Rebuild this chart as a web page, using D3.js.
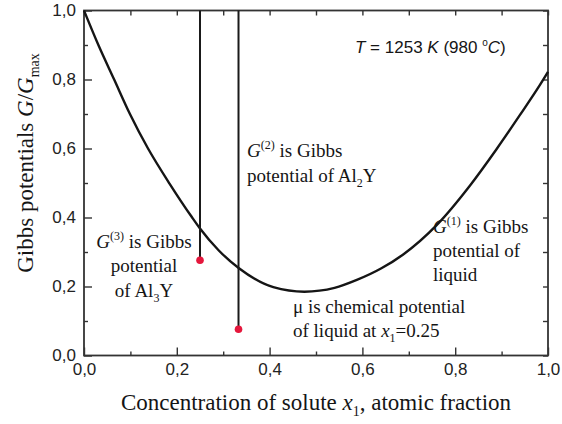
<!DOCTYPE html>
<html>
<head>
<meta charset="utf-8">
<script src="https://cdn.jsdelivr.net/npm/d3@7"></script>
<style>
  body { margin: 0; background: #fff; }
</style>
</head>
<body>
<div id="chart"></div>
<script>
// Gibbs potential of the liquid, G/Gmax vs x1
const concX = [0, 0.031, 0.065, 0.099, 0.138, 0.185, 0.232, 0.25, 0.29, 0.334, 0.408, 0.475, 0.54, 0.588, 0.64, 0.688, 0.76, 0.832, 0.889, 0.94, 0.983, 1.0];
const gibbsY = [1.0, 0.9, 0.8, 0.7, 0.6, 0.497, 0.402, 0.368, 0.305, 0.253, 0.198, 0.185, 0.196, 0.219, 0.252, 0.293, 0.378, 0.493, 0.598, 0.698, 0.785, 0.822];

// compounds Al3Y and Al2Y: position and Gibbs potential (red dots)
const compX = [0.25, 0.333];
const compY = [0.276, 0.076];

const majorTicks = [0, 0.2, 0.4, 0.6, 0.8, 1.0];
const minorTicks = [0.1, 0.3, 0.5, 0.7, 0.9];

const width = 562, height = 424;
const margin = { left: 84, right: 14, top: 10.5, bottom: 68.5 };

const svg = d3.select("#chart").append("svg")
    .attr("width", width)
    .attr("height", height);

const x = d3.scaleLinear().domain([0, 1]).range([margin.left, width - margin.right]);
const y = d3.scaleLinear().domain([0, 1]).range([height - margin.bottom, margin.top]);

const fmt = d => d3.format(".1f")(d).replace(".", ",");
const sans = "'Liberation Sans', Arial, sans-serif";
const serif = "'Liberation Serif', 'Times New Roman', serif";

// axes, ticks pointing inward
function styleAxis(g) {
    g.select(".domain").remove();
    g.selectAll("line").attr("stroke", "#333").attr("stroke-width", 1.4);
    g.selectAll("text").attr("font-family", sans).attr("font-size", 17).attr("fill", "#222");
}

svg.append("g").attr("transform", `translate(0,${y(0)})`)
    .call(d3.axisBottom(x).tickValues(majorTicks).tickSize(-8).tickPadding(7).tickFormat(fmt))
    .call(styleAxis);
svg.append("g").attr("transform", `translate(0,${y(0)})`)
    .call(d3.axisBottom(x).tickValues(minorTicks).tickSize(-4).tickFormat(""))
    .call(styleAxis);
svg.append("g").attr("transform", `translate(${x(0)},0)`)
    .call(d3.axisLeft(y).tickValues(majorTicks).tickSize(-8).tickPadding(8).tickFormat(fmt))
    .call(styleAxis);
svg.append("g").attr("transform", `translate(${x(0)},0)`)
    .call(d3.axisLeft(y).tickValues(minorTicks).tickSize(-4).tickFormat(""))
    .call(styleAxis);
// top and right: ticks only
svg.append("g").attr("transform", `translate(0,${y(1)})`)
    .call(d3.axisTop(x).tickValues(majorTicks.concat(minorTicks)).tickSize(-5).tickFormat(""))
    .call(styleAxis);
svg.append("g").attr("transform", `translate(${x(1)},0)`)
    .call(d3.axisRight(y).tickValues(majorTicks.concat(minorTicks)).tickSize(-5).tickFormat(""))
    .call(styleAxis);

// frame
svg.append("rect")
    .attr("x", x(0)).attr("y", y(1))
    .attr("width", x(1) - x(0)).attr("height", y(0) - y(1))
    .attr("fill", "none").attr("stroke", "#333").attr("stroke-width", 1.8);

// liquid curve
const pts = concX.map((c, i) => [c, gibbsY[i]]);
svg.append("path")
    .datum(pts)
    .attr("fill", "none")
    .attr("stroke", "#151515")
    .attr("stroke-width", 2.4)
    .attr("d", d3.line().x(d => x(d[0])).y(d => y(d[1])).curve(d3.curveMonotoneX));

// compound lines with dots
svg.selectAll("line.comp")
    .data(compX)
    .enter()
    .append("line")
    .attr("class", "comp")
    .attr("x1", d => x(d)).attr("x2", d => x(d))
    .attr("y1", y(1))
    .attr("y2", (d, i) => y(compY[i]))
    .attr("stroke", "#1a1a1a")
    .attr("stroke-width", 2);

svg.selectAll("circle")
    .data(compX)
    .enter()
    .append("circle")
    .attr("cx", d => x(d))
    .attr("cy", (d, i) => y(compY[i]))
    .attr("r", 3.8)
    .attr("fill", "#e5173c");

// rich text helper: segments {t, it, sup, sub}
function rich(parent, px, py, segs, opts) {
    const t = parent.append("text")
        .attr("x", px).attr("y", py)
        .attr("font-family", opts.font)
        .attr("font-size", opts.size)
        .attr("fill", "#151515")
        .attr("text-anchor", opts.anchor || "start");
    let shift = 0;
    segs.forEach(s => {
        let target = s.sup ? -opts.sup : s.sub ? opts.sub : 0;
        const ts = t.append("tspan").text(s.t).attr("dy", target - shift);
        shift = target;
        if (s.it) ts.attr("font-style", "italic");
        if (s.sup || s.sub) ts.attr("font-size", opts.small);
    });
    return t;
}

const ann = svg.append("g");
const serifOpts = { font: serif, size: 19, small: 12, sup: 8, sub: 5 };

rich(ann, 355, 53, [
    { t: "T", it: true }, { t: " = 1253 " }, { t: "K", it: true }, { t: " (980 " },
    { t: "o", sup: true }, { t: "C", it: true }, { t: ")" }
], { font: sans, size: 17, small: 10, sup: 7, sub: 4 });

rich(ann, 247, 157, [{ t: "G", it: true }, { t: "(2)", sup: true }, { t: " is Gibbs" }], serifOpts);
rich(ann, 247, 182, [{ t: "potential of Al" }, { t: "2", sub: true }, { t: "Y" }], serifOpts);

const c3 = Object.assign({}, serifOpts, { anchor: "middle" });
rich(ann, 144, 248, [{ t: "G", it: true }, { t: "(3)", sup: true }, { t: " is Gibbs" }], c3);
rich(ann, 144, 272, [{ t: "potential" }], c3);
rich(ann, 144, 297, [{ t: "of Al" }, { t: "3", sub: true }, { t: "Y" }], c3);

rich(ann, 433, 233, [{ t: "G", it: true }, { t: "(1)", sup: true }, { t: " is Gibbs" }], serifOpts);
rich(ann, 433, 257, [{ t: "potential of" }], serifOpts);
rich(ann, 433, 281, [{ t: "liquid" }], serifOpts);

rich(ann, 293, 313, [{ t: "μ is chemical potential" }], serifOpts);
rich(ann, 293, 337, [{ t: "of liquid at " }, { t: "x", it: true }, { t: "1", sub: true }, { t: "=0.25" }], serifOpts);

// axis titles
const titleOpts = { font: serif, size: 23, small: 14, sup: 8, sub: 6, anchor: "middle" };
rich(svg, (x(0) + x(1)) / 2, 410, [
    { t: "Concentration of solute " }, { t: "x", it: true }, { t: "1", sub: true }, { t: ", atomic fraction" }
], titleOpts);

rich(svg.append("g").attr("transform", "translate(33,163) rotate(-90)"), 0, 0, [
    { t: "Gibbs potentials " }, { t: "G", it: true }, { t: "/" }, { t: "G", it: true }, { t: "max", sub: true }
], titleOpts);
</script>
</body>
</html>
